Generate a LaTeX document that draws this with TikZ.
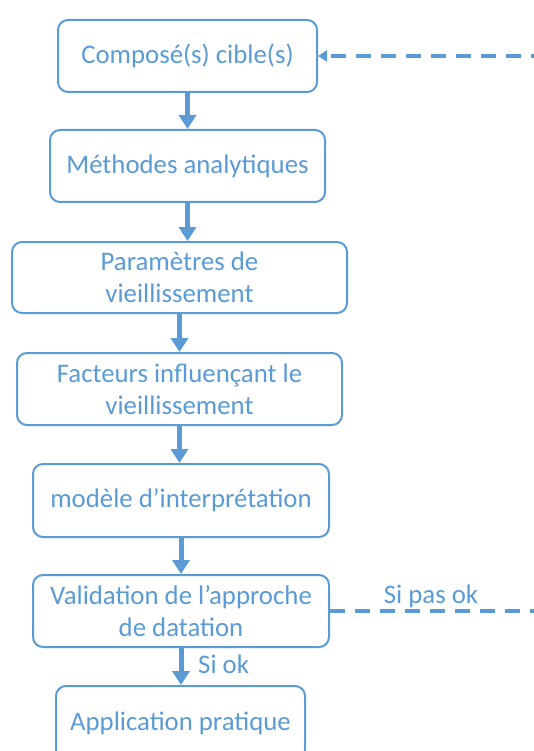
\documentclass[tikz,border=0pt]{standalone}
\usepackage{fontspec}
\setmainfont{Carlito}
\usetikzlibrary{arrows.meta}
\definecolor{flowblue}{HTML}{5B9BD5}
\tikzset{
  stepbox/.style={draw=flowblue, line width=2pt, rounded corners=10pt,
    text=flowblue, align=center, inner sep=0pt,
    font=\fontsize{26.8}{32}\selectfont, fill=white},
  flow/.style={draw=flowblue, line width=5pt,
    -{Triangle[width=17pt,length=14pt]}},
  ret/.style={draw=flowblue, line width=3.5pt, dash pattern=on 15pt off 10pt,
    -{Triangle[width=11pt,length=9pt]}},
  lbl/.style={text=flowblue, font=\fontsize{26.8}{32}\selectfont, inner sep=0pt}
}
\begin{document}
\begin{tikzpicture}[x=1pt,y=-1pt]
\useasboundingbox[fill=white] (0,0) rectangle (534,751);

% process boxes, top to bottom
\node[stepbox, minimum width=259pt, minimum height=72pt] (c1) at (187.5,56) {Composé(s) cible(s)};
\node[stepbox, minimum width=275pt, minimum height=72pt] (c2) at (187.5,166) {Méthodes analytiques};
\node[stepbox, minimum width=335pt, minimum height=71pt] (c3) at (179.5,277.5) {Paramètres de\\vieillissement};
\node[stepbox, minimum width=325pt, minimum height=72pt] (c4) at (179.5,389) {Facteurs influençant le\\vieillissement};
\node[stepbox, minimum width=296pt, minimum height=73pt] (c5) at (181,500.5) {modèle d’interprétation};
\node[stepbox, minimum width=296pt, minimum height=72pt] (c6) at (181,611) {Validation de l’approche\\de datation};
\node[stepbox, minimum width=249pt, minimum height=74pt] (c7) at (180.5,723) {Application pratique};

% downward flow
\draw[flow] (c1.south) -- (c1.south |- c2.north);
\draw[flow] (c2.south) -- (c2.south |- c3.north);
\draw[flow] (c3.south) -- (c3.south |- c4.north);
\draw[flow] (c4.south) -- (c4.south |- c5.north);
\draw[flow] (c5.south) -- (c5.south |- c6.north);
\draw[flow] (c6.south) -- (c6.south |- c7.north);
\node[lbl, anchor=base west] (ok) at (198,673) {Si ok};

% feedback loop when validation fails
\coordinate (rc) at (535.5,610);
\draw[ret] (c6.east) -- (c6.east -| rc) |- (c1.east);
\node[lbl, anchor=base] (nok) at (431,603) {Si pas ok};
\end{tikzpicture}
\end{document}
